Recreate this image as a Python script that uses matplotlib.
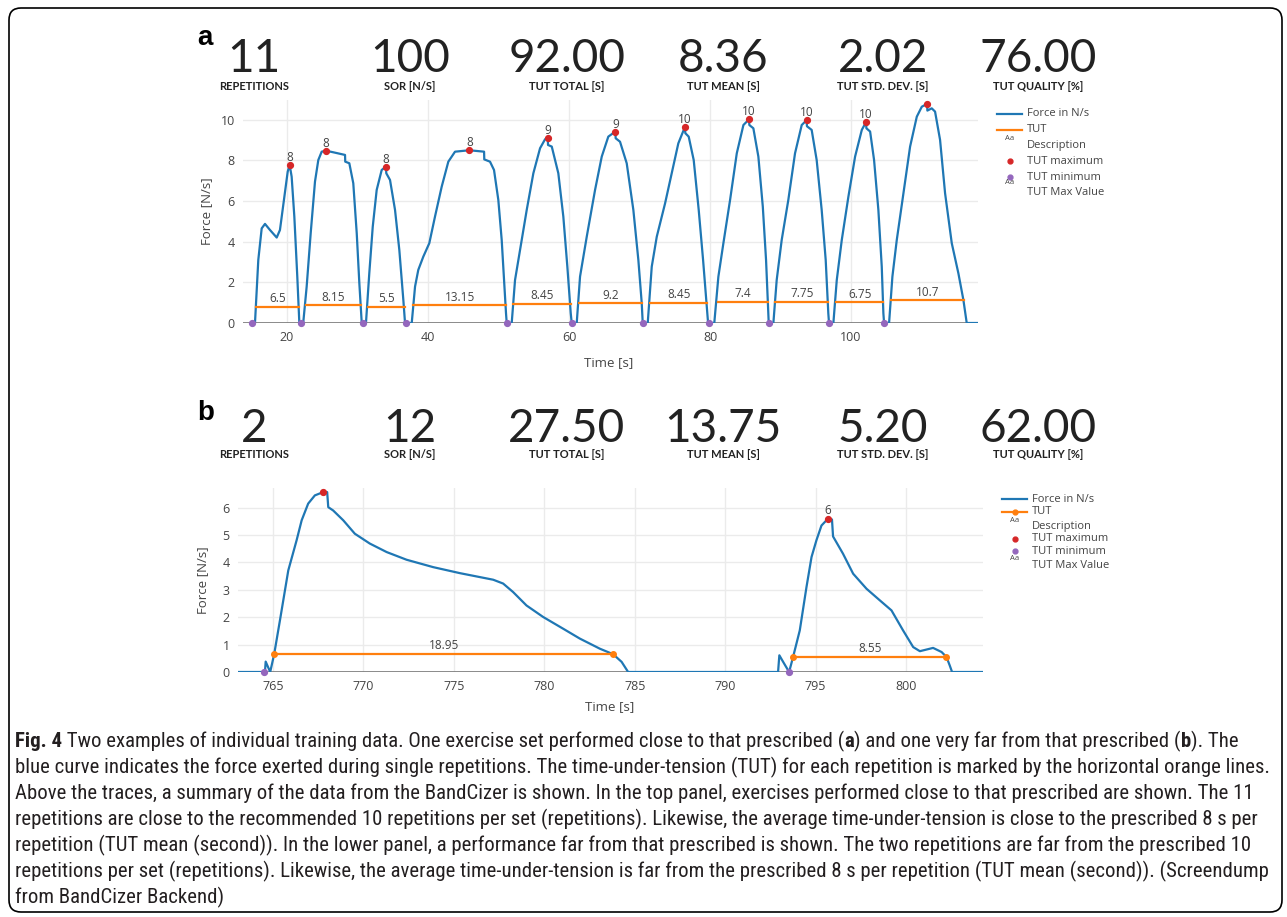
import numpy as np
import matplotlib
matplotlib.use("Agg")
import matplotlib.pyplot as plt
from matplotlib.lines import Line2D
from matplotlib.patches import FancyBboxPatch
from matplotlib.transforms import IdentityTransform
from matplotlib import font_manager
from matplotlib.font_manager import FontProperties

W, H = 1287, 917

head_labels = ["REPETITIONS", "SOR [N/S]", "TUT TOTAL [S]", "TUT MEAN [S]", "TUT STD. DEV. [S]", "TUT QUALITY [%]"]
head_a = ["11", "100", "92.00", "8.36", "2.02", "76.00"]
head_b = ["2", "12", "27.50", "13.75", "5.20", "62.00"]

a_time = [15.0, 15.46, 15.93, 16.41, 16.88, 17.59, 18.54, 19.0, 19.57, 20.1, 20.38, 20.66, 21.04, 21.46, 21.75, 22.3,
          22.79, 23.36, 23.97, 24.44, 24.92, 25.49, 26.57, 28.23, 28.26, 28.84, 29.4, 29.89, 30.26, 30.6, 31.2,
          31.67, 32.16, 32.72, 33.43, 34.04, 34.08, 34.61, 35.32, 35.93, 36.5, 36.74, 37.69,
          38.16, 38.62, 39.33, 40.18, 40.99, 41.94, 42.88, 43.83, 45.86, 47.95, 47.98, 48.79, 49.36, 49.97, 50.45, 50.78, 51.06, 51.16, 51.87,
          52.34, 53.05, 54.0, 54.94, 55.89, 56.6, 56.98, 57.02, 57.55, 58.48, 59.19, 59.76, 60.24, 60.38, 61.09,
          61.56, 62.51, 63.69, 64.64, 65.57, 66.57, 66.61, 67.23, 68.18, 69.12, 69.83, 70.31, 70.45, 71.16,
          71.73, 72.44, 73.62, 74.57, 75.5, 76.45, 76.49, 76.97, 77.68, 78.39, 79.01, 79.57, 79.72, 80.6,
          81.18, 81.89, 82.84, 83.79, 84.73, 85.53, 85.57, 86.14, 86.85, 87.48, 87.94, 88.27, 88.32, 88.98,
          89.45, 90.16, 91.1, 92.05, 93.0, 93.7, 93.74, 94.41, 95.12, 95.83, 96.4, 96.77, 96.87, 97.49,
          97.97, 98.68, 99.62, 100.57, 101.52, 102.13, 102.17, 102.7, 103.26, 103.87, 104.35, 104.58, 104.68, 105.39,
          105.86, 106.48, 107.42, 108.37, 109.32, 110.03, 110.78, 110.82, 111.44, 111.91, 112.62, 113.33, 114.28, 115.22, 115.93, 116.4, 118.0]
a_force = [0, 0, 3.1, 4.65, 4.87, 4.57, 4.2, 4.57, 6.05, 7.44, 7.77, 7.19, 5.23, 2.28, 0, 0,
           1.79, 4.41, 6.95, 8.01, 8.42, 8.47, 8.39, 8.26, 7.93, 7.85, 6.87, 4.41, 1.95, 0, 0,
           2.44, 4.73, 6.54, 7.52, 7.69, 7.36, 7.03, 5.56, 3.59, 1.13, 0, 0,
           1.79, 2.61, 3.26, 3.92, 5.23, 6.7, 7.93, 8.42, 8.49, 8.42, 8.04, 7.93, 7.52, 6.05, 4.08, 2.11, 0.48, 0, 0,
           2.11, 3.59, 5.56, 7.36, 8.59, 9.03, 9.11, 8.75, 8.67, 7.36, 5.23, 2.77, 0.48, 0, 0,
           2.28, 4.24, 6.54, 8.18, 9.16, 9.41, 9.08, 8.91, 7.85, 5.56, 3.1, 0.97, 0, 0,
           2.77, 4.24, 5.88, 7.36, 8.83, 9.65, 9.33, 9.16, 8.01, 5.56, 3.1, 0.64, 0, 0,
           2.28, 3.92, 6.05, 8.34, 9.73, 10.01, 9.73, 9.57, 8.18, 5.72, 3.1, 0.48, 0, 0,
           2.11, 4.08, 6.05, 8.34, 9.73, 9.97, 9.67, 9.49, 8.01, 5.56, 3.1, 0.48, 0, 0,
           2.11, 4.08, 6.21, 8.18, 9.49, 9.88, 9.57, 9.41, 8.01, 5.56, 2.77, 0.48, 0, 0,
           2.28, 4.08, 6.38, 8.67, 10.14, 10.63, 10.77, 10.44, 10.55, 10.39, 9.0, 6.38, 3.92, 2.44, 1.13, 0, 0]

a_max_t = [20.38, 25.49, 34.04, 45.86, 56.98, 66.57, 76.45, 85.53, 93.7, 102.13, 110.78]
a_max_f = [7.77, 8.47, 7.69, 8.49, 9.11, 9.41, 9.65, 10.01, 9.97, 9.88, 10.77]
a_max_lab = ["8", "8", "8", "8", "9", "9", "10", "10", "10", "10", ""]
a_min_t = [15.0, 21.94, 30.83, 36.88, 51.25, 60.47, 70.54, 79.9, 88.35, 96.87, 104.7]
a_tut_start = [15.56, 22.65, 31.53, 37.92, 52.1, 61.42, 71.49, 81.07, 89.22, 97.83, 105.63]
a_tut_end = [21.75, 30.45, 36.74, 51.06, 60.24, 70.4, 79.62, 88.27, 96.77, 104.58, 116.03]
a_tut_level = [0.80, 0.88, 0.80, 0.88, 0.95, 0.98, 1.0, 1.05, 1.05, 1.03, 1.11]
a_tut_lab = ["6.5", "8.15", "5.5", "13.15", "8.45", "9.2", "8.45", "7.4", "7.75", "6.75", "10.7"]

b_time = [763.0, 764.5, 764.56, 764.6, 764.85, 765.07, 765.39, 765.85, 766.31, 766.59, 766.95, 767.32, 767.78, 768.0,
          768.06, 768.33, 768.89, 769.53, 770.36, 771.29, 772.39, 773.86, 775.34, 777.18, 777.73, 778.28, 779.02,
          779.94, 781.05, 781.97, 783.08, 783.81, 784.28, 784.64, 792.93, 793.0, 793.21, 793.54, 793.76, 794.13,
          794.5, 794.78, 795.05, 795.33, 795.69, 795.91, 795.97, 796.52, 797.08, 797.82, 798.55, 799.2, 799.84,
          800.4, 800.77, 801.5, 801.97, 802.24, 802.42, 802.55, 804.3]
b_force = [0, 0, 0, 0.38, 0, 0.65, 1.89, 3.71, 4.81, 5.54, 6.15, 6.45, 6.57, 6.57,
           6.02, 5.9, 5.54, 5.05, 4.69, 4.38, 4.1, 3.83, 3.61, 3.37, 3.23, 2.92, 2.43,
           2.01, 1.58, 1.22, 0.85, 0.65, 0.37, 0, 0, 0.61, 0.37, 0, 0.55, 1.52,
           3.1, 4.2, 4.81, 5.35, 5.6, 5.57, 4.95, 4.32, 3.59, 3.04, 2.62, 2.25, 1.52,
           0.91, 0.76, 0.88, 0.73, 0.55, 0.24, 0, 0]
b_max_t = [767.78, 795.69]
b_max_f = [6.57, 5.6]
b_max_lab = ["", "6"]
b_min_t = [764.5, 793.54]
b_tut_start = [765.07, 793.76]
b_tut_end = [783.81, 802.24]
b_tut_level = [0.65, 0.55]
b_tut_lab = ["18.95", "8.55"]

caption = [
    [("Fig. 4", "bold"), (" Two examples of individual training data. One exercise set performed close to that prescribed (", "normal"),
     ("a", "bold"), (") and one very far from that prescribed (", "normal"), ("b", "bold"), ("). The", "normal")],
    [("blue curve indicates the force exerted during single repetitions. The time-under-tension (TUT) for each repetition is marked by the horizontal orange lines.", "normal")],
    [("Above the traces, a summary of the data from the BandCizer is shown. In the top panel, exercises performed close to that prescribed are shown. The 11", "normal")],
    [("repetitions are close to the recommended 10 repetitions per set (repetitions). Likewise, the average time-under-tension is close to the prescribed 8 s per", "normal")],
    [("repetition (TUT mean (second)). In the lower panel, a performance far from that prescribed is shown. The two repetitions are far from the prescribed 10", "normal")],
    [("repetitions per set (repetitions). Likewise, the average time-under-tension is far from the prescribed 8 s per repetition (TUT mean (second)). (Screendump", "normal")],
    [("from BandCizer Backend)", "normal")],
]

# ---------------- styling ----------------
BLUE, ORANGE, RED, PURPLE = "#1f77b4", "#ff7f0e", "#d62728", "#9467bd"
GRAY = "#444444"
installed = {f.name for f in font_manager.fontManager.ttflist}
UI = "Open Sans" if "Open Sans" in installed else "DejaVu Sans"
BIG = "Lato" if "Lato" in installed else "DejaVu Sans"


def wnum(w):
    if isinstance(w, str):
        return {"normal": 400, "regular": 400, "book": 400, "bold": 700}.get(w, 400)
    return int(w)


# caption font: look for a narrow/condensed face, else Liberation Sans
def find_caption_font():
    narrow = []
    for f in font_manager.fontManager.ttflist:
        if f.style != "normal":
            continue
        if "Narrow" in f.name or "Condensed" in f.name or "condensed" in str(f.stretch):
            narrow.append(f)
    pref = ["Liberation Sans Narrow", "Roboto Condensed", "Open Sans Condensed", "Noto Sans", "DejaVu Sans"]
    narrow.sort(key=lambda f: pref.index(f.name) if f.name in pref else len(pref))
    reg = bold = None
    for f in narrow:
        if reg is None and wnum(f.weight) == 400:
            reg = f
            for g in narrow:
                if g.name == f.name and str(g.stretch) == str(f.stretch) and wnum(g.weight) == 700:
                    bold = g
                    break
    if reg is not None:
        rp = FontProperties(fname=reg.fname)
        bp = FontProperties(fname=bold.fname) if bold is not None else FontProperties(fname=reg.fname, weight="bold")
        return rp, bp
    return FontProperties(family="Liberation Sans"), FontProperties(family="Liberation Sans", weight="bold")


cap_reg, cap_bold = find_caption_font()

fig = plt.figure(figsize=(W / 100, H / 100), dpi=100)


def fx(px):
    return px / W


def fy(py):
    return 1 - py / H


def panel(rect_px, xlim, ylim, xticks, yticks, time, force, mx_t, mx_f, mx_lab, mn_t,
          ts, te, tl, tlab, tut_markers, label_pos):
    l, t, r, b = rect_px
    ax = fig.add_axes([fx(l), fy(b), (r - l) / W, (b - t) / H])
    ax.set_xlim(*xlim)
    ax.set_ylim(*ylim)
    ax.set_xticks(xticks)
    ax.set_yticks(yticks)
    for s in ax.spines.values():
        s.set_visible(False)
    ax.grid(True, color="#ebebeb", lw=1)
    ax.set_axisbelow(True)
    ax.tick_params(length=0, labelsize=9, labelcolor=GRAY, pad=6)
    for lab in ax.get_xticklabels() + ax.get_yticklabels():
        lab.set_fontfamily(UI)
    ax.axhline(0, color="#777777", lw=1.2, zorder=1)
    ax.plot(time, force, color=BLUE, lw=1.6, zorder=3, solid_joinstyle="round")
    for s, e, lv, lab in zip(ts, te, tl, tlab):
        if tut_markers:
            ax.plot([s, e], [lv, lv], color=ORANGE, lw=1.6, marker="o", ms=4, zorder=4)
        else:
            ax.plot([s, e], [lv, lv], color=ORANGE, lw=1.6, zorder=4)
        ax.text((s + e) / 2, lv + 0.07, lab, ha="center", va="bottom",
                fontsize=8.5, color=GRAY, family=UI, zorder=5)
    ax.plot(mx_t, mx_f, "o", color=RED, ms=4.2, zorder=6, clip_on=False)
    for x, y, lab in zip(mx_t, mx_f, mx_lab):
        if lab:
            ax.text(x, y + 0.05, lab, ha="center", va="bottom", fontsize=8.5, color=GRAY, family=UI, zorder=6)
    ax.plot(mn_t, [0] * len(mn_t), "o", color=PURPLE, ms=4.2, zorder=6, clip_on=False)
    yl_x, xl_x, xl_y = label_pos
    ax.text(yl_x, 0.5, "Force [N/s]", transform=ax.transAxes, rotation=90, ha="center", va="center",
            fontsize=9.5, color=GRAY, family=UI)
    ax.text(xl_x, xl_y, "Time [s]", transform=ax.transAxes, ha="center", va="center",
            fontsize=9.5, color=GRAY, family=UI)
    return ax


panel((243, 100, 978, 323), (13.76, 118.0), (0, 10.96), [20, 40, 60, 80, 100], [0, 2, 4, 6, 8, 10],
      a_time, a_force, a_max_t, a_max_f, a_max_lab, a_min_t,
      a_tut_start, a_tut_end, a_tut_level, a_tut_lab, False, (-0.050, 0.498, -0.179))
panel((238, 488, 983, 672), (763.07, 804.26), (0, 6.72), [765, 770, 775, 780, 785, 790, 795, 800], [0, 1, 2, 3, 4, 5, 6],
      b_time, b_force, b_max_t, b_max_f, b_max_lab, b_min_t,
      b_tut_start, b_tut_end, b_tut_level, b_tut_lab, True, (-0.047, 0.499, -0.19))


# legends (plotly style)
def legend(x0, ys, tut_marker):
    y_force, y_tut, y_aa1, y_desc, y_max, y_min, y_aa2, y_mv = ys
    xt = x0 + 30
    fig.add_artist(Line2D([fx(x0), fx(x0 + 25)], [fy(y_force)] * 2, color=BLUE, lw=1.6))
    fig.add_artist(Line2D([fx(x0), fx(x0 + 25)], [fy(y_tut)] * 2, color=ORANGE, lw=1.6))
    if tut_marker:
        fig.add_artist(Line2D([fx(x0 + 12.5)], [fy(y_tut)], color=ORANGE, marker="o", ms=3.5))
    fig.add_artist(Line2D([fx(x0 + 12.5)], [fy(y_max)], color=RED, marker="o", ms=3.5, lw=0))
    fig.add_artist(Line2D([fx(x0 + 12.5)], [fy(y_min)], color=PURPLE, marker="o", ms=3.5, lw=0))
    for yy in (y_aa1, y_aa2):
        fig.text(fx(x0 + 12.5), fy(yy), "Aa", ha="center", va="center", fontsize=5.5, color=GRAY, family=UI)
    for yy, s in [(y_force, "Force in N/s"), (y_tut, "TUT"), (y_desc, "Description"),
                  (y_max, "TUT maximum"), (y_min, "TUT minimum"), (y_mv, "TUT Max Value")]:
        fig.text(fx(xt), fy(yy), s, ha="left", va="center", fontsize=8, color=GRAY, family=UI)


legend(997, (114, 130, 139, 145.5, 161, 177, 183, 192.5), False)
legend(1002, (499, 512, 521, 526, 538.5, 551, 559, 565), True)

# header summaries
cols = [254, 410, 567, 723, 883, 1038]
for cx, v, lab in zip(cols, head_a, head_labels):
    fig.text(fx(cx), fy(72), v, ha="center", va="baseline", fontsize=33, color="#222222", family=BIG)
    fig.text(fx(cx), fy(90), lab, ha="center", va="baseline", fontsize=8, fontweight="bold", color="#222222", family=BIG)
for cx, v, lab in zip(cols, head_b, head_labels):
    fig.text(fx(cx), fy(442), v, ha="center", va="baseline", fontsize=33, color="#222222", family=BIG)
    fig.text(fx(cx), fy(458), lab, ha="center", va="baseline", fontsize=8, fontweight="bold", color="#222222", family=BIG)
fig.text(fx(197), fy(45), "a", fontsize=20, fontweight="bold", family="Liberation Sans", va="baseline")
fig.text(fx(197), fy(420), "b", fontsize=20, fontweight="bold", family="Liberation Sans", va="baseline")

# caption, sized so the second line spans the text block width
renderer = fig.canvas.get_renderer()
probe = fig.text(0, 0, caption[1][0][0], fontproperties=cap_reg, fontsize=10)
cap_size = min(10 * 1245 / probe.get_window_extent(renderer).width, 16)
probe.remove()
for i, segs in enumerate(caption):
    x = 15
    y = 747 + 26 * i
    for s, w in segs:
        fp = (cap_bold if w == "bold" else cap_reg).copy()
        fp.set_size(cap_size)
        t = fig.text(fx(x), fy(y), s, fontproperties=fp, color="#231f20", va="baseline")
        x += t.get_window_extent(renderer).width

# outer frame
fig.patches.append(FancyBboxPatch((9, H - 912), 1273, 904, boxstyle="round,pad=0,rounding_size=12",
                                  transform=IdentityTransform(), fill=False, ec="black", lw=1.2))

fig.savefig("out.png", dpi=100)
